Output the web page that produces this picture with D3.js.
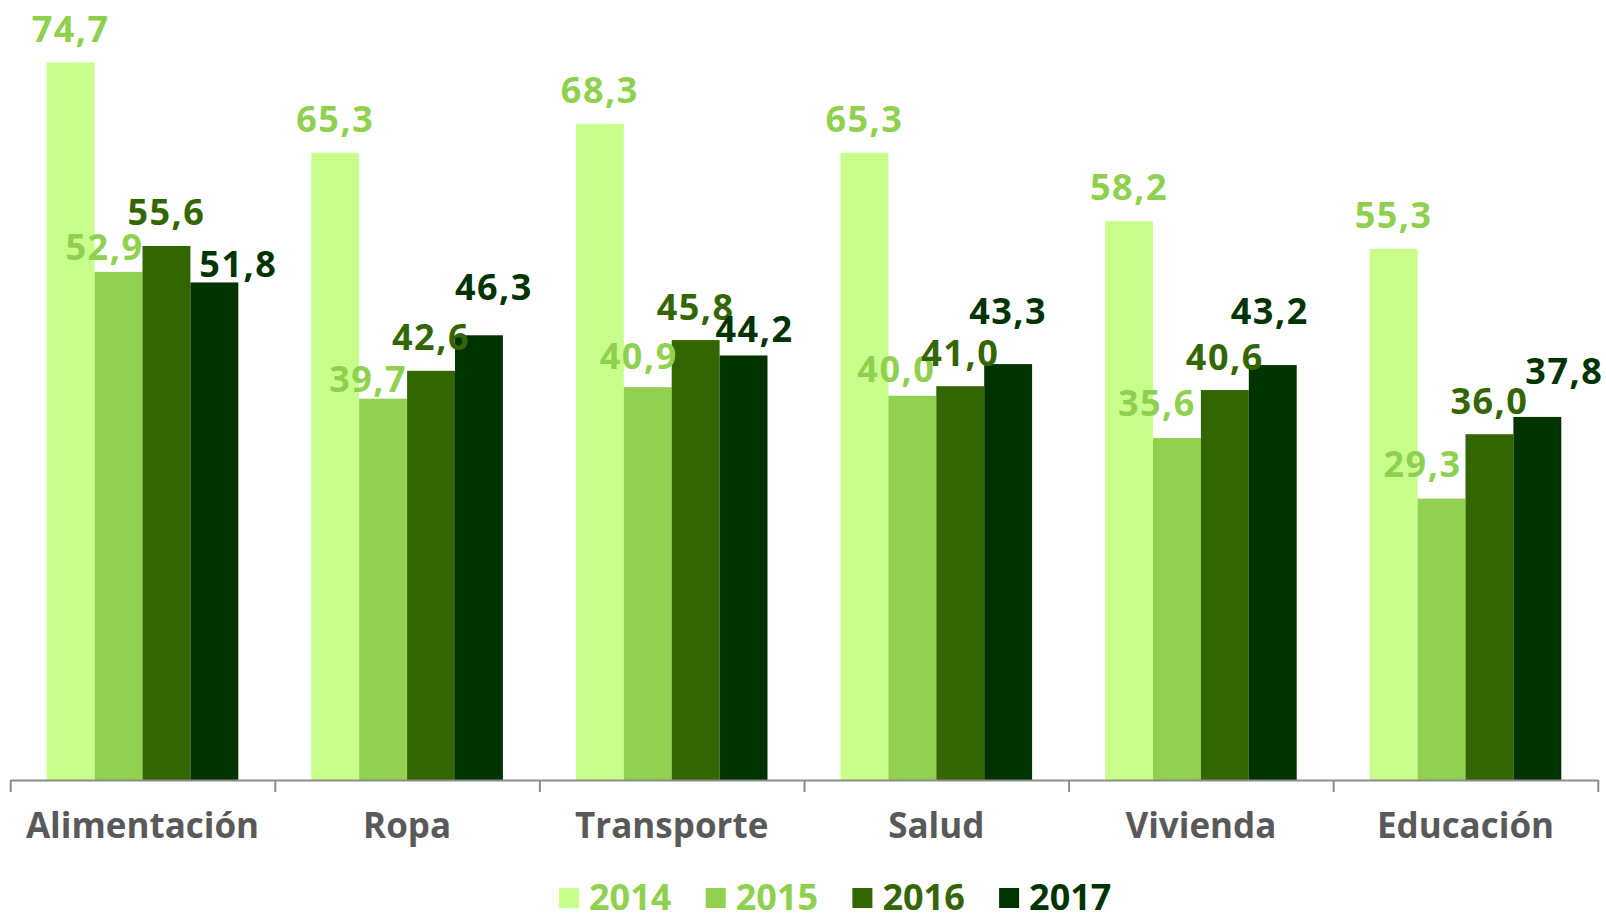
<!DOCTYPE html>
<html lang="es">
  <head>
    <meta charset="UTF-8" />
    <title>Gasto por categoría 2014-2017</title>
    <script src="https://d3js.org/d3.v7.min.js"></script>
    <style>
      body { margin: 0; background: #fff; }
      text { font-family: "Open Sans", "Noto Sans", sans-serif; font-weight: 700; }
    </style>
  </head>
  <body>
    <div id="chart"></div>
  </body>
</html>

<script>
  const categories = ["Alimentación", "Ropa", "Transporte", "Salud", "Vivienda", "Educación"]
  const years = ["2014", "2015", "2016", "2017"]
  const v2014 = [74.7, 65.3, 68.3, 65.3, 58.2, 55.3]
  const v2015 = [52.9, 39.7, 40.9, 40.0, 35.6, 29.3]
  const v2016 = [55.6, 42.6, 45.8, 41.0, 40.6, 36.0]
  const v2017 = [51.8, 46.3, 44.2, 43.3, 43.2, 37.8]
  const series = [v2014, v2015, v2016, v2017]

  const barColors = ["#c8ff8c", "#92d050", "#336600", "#003300"]
  const textColors = ["#8fd14f", "#8fd14f", "#336600", "#003300"]

  // hand-moved labels in the original (dx, dy in px from the default spot)
  const labelNudge = [
    [[0, 0], [0, 0], [0, 0], [0, 0], [0, 0], [0, 0]],
    [[-14, 9], [-15, 14], [-9, 2], [-16, 7], [-20, -2], [-19, -1]],
    [[0, 0], [0, 0], [0, 0], [0, 0], [0, 0], [0, 0]],
    [[24, 15], [15, -15], [11, 7], [0, -20], [-3, -21], [27, -12]]
  ]

  const width = 1606
  const height = 913
  const baseY = 780

  const svg = d3.select("#chart").append("svg")
    .attr("width", width)
    .attr("height", height)

  const x0 = d3.scaleBand()
    .domain(categories)
    .range([10.2, 1597.8])

  const x1 = d3.scaleBand()
    .domain(years)
    .range([0, x0.bandwidth()])
    .paddingOuter(0.762)

  const y = d3.scaleLinear()
    .domain([0, 80])
    .range([baseY, baseY - 80 * 9.605])

  const rows = []
  series.forEach((vals, s) => {
    vals.forEach((v, c) => rows.push({ s, c, v }))
  })

  // bars
  svg.append("g").selectAll("rect")
    .data(rows)
    .join("rect")
    .attr("x", d => x0(categories[d.c]) + x1(years[d.s]))
    .attr("y", d => y(d.v))
    .attr("width", x1.bandwidth())
    .attr("height", d => baseY - y(d.v))
    .attr("fill", d => barColors[d.s])

  // value labels
  svg.append("g").selectAll("text")
    .data(rows)
    .join("text")
    .attr("x", d => x0(categories[d.c]) + x1(years[d.s]) + x1.bandwidth() / 2 + labelNudge[d.s][d.c][0])
    .attr("y", d => y(d.v) - 20.5 + labelNudge[d.s][d.c][1])
    .attr("text-anchor", "middle")
    .attr("font-size", 36)
    .attr("letter-spacing", 1.5)
    .attr("fill", d => textColors[d.s])
    .text(d => d3.format(".1f")(d.v).replace(".", ","))

  // axis line with ticks at category boundaries
  const edges = d3.scaleLinear().domain([0, categories.length]).range(x0.range())
  const axisG = svg.append("g")
    .attr("transform", `translate(0,${baseY})`)
    .call(d3.axisBottom(edges).tickValues(d3.range(categories.length + 1)).tickFormat("").tickSize(12).tickSizeOuter(0))
  axisG.selectAll("path, line").attr("stroke", "#8c8c8c").attr("stroke-width", 2)

  // category labels
  const catG = svg.append("g")
    .attr("transform", `translate(0,${baseY})`)
    .call(d3.axisBottom(x0).tickSize(0).tickPadding(33))
  catG.select(".domain").remove()
  catG.selectAll("text")
    .attr("font-family", "'Open Sans', sans-serif")
    .attr("font-weight", 700)
    .attr("font-size", 35)
    .attr("fill", "#595959")

  // legend
  const legend = svg.append("g").selectAll("g")
    .data(years)
    .join("g")
    .attr("transform", (d, i) => `translate(${559 + i * 146.7},0)`)
  legend.append("rect")
    .attr("x", 0)
    .attr("y", 888)
    .attr("width", 20)
    .attr("height", 20)
    .attr("fill", (d, i) => barColors[i])
  legend.append("text")
    .attr("x", 30)
    .attr("y", 910)
    .attr("font-size", 36)
    .attr("fill", (d, i) => textColors[i])
    .text(d => d)
</script>
